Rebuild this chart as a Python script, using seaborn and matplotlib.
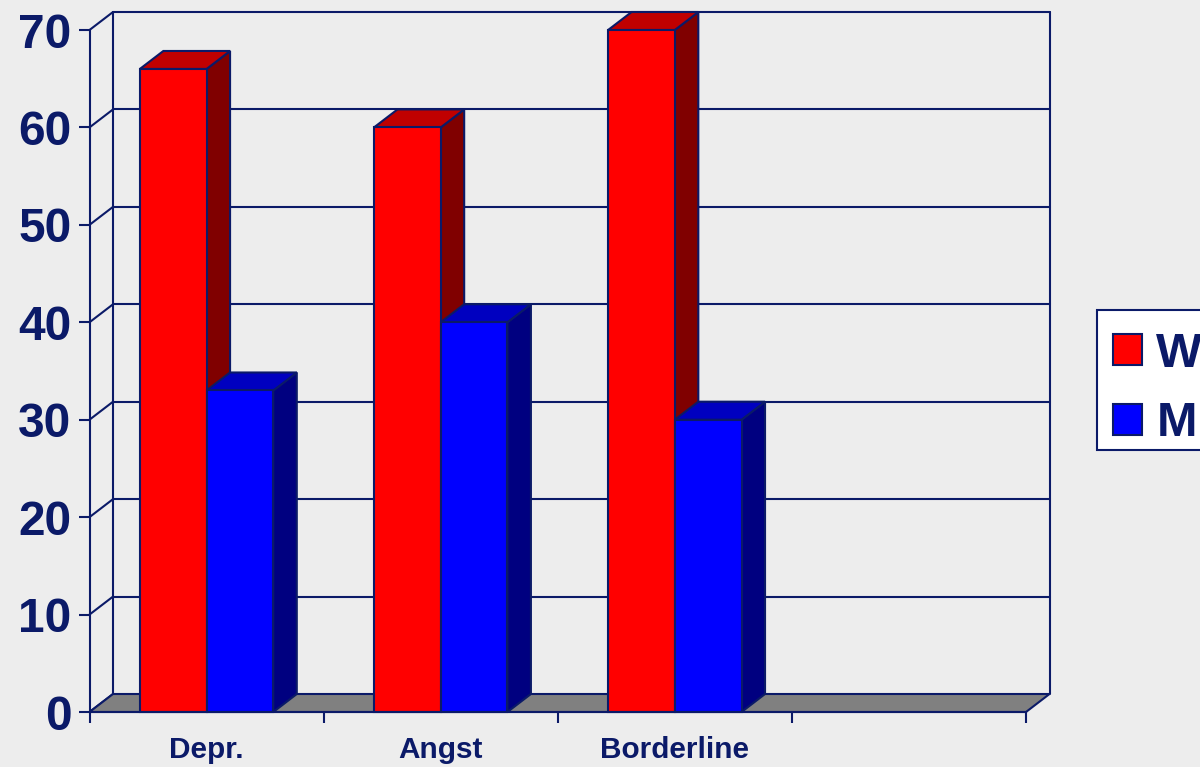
import pandas as pd
import matplotlib.pyplot as plt
from matplotlib.patches import Polygon, Rectangle
import seaborn as sns

# data
kategorien = ['Depr.', 'Angst', 'Borderline', ' ']
werte_w = [66, 60, 70]
werte_m = [33, 40, 30]
y_ticks = [0, 10, 20, 30, 40, 50, 60, 70]
serien = ['W', 'M']

# config
BG = '#ededed'
NAVY = '#0b1a68'
LW = 1.5
farben = {'W': '#ff0000', 'M': '#0000ff'}
seite = {'W': '#800000', 'M': '#000080'}
oben = {'W': '#c00000', 'M': '#0000c0'}

sns.set_theme(style='white', rc={'figure.facecolor': BG, 'axes.facecolor': 'none'})
plt.rcParams['font.family'] = ['Liberation Sans', 'DejaVu Sans']

df = pd.DataFrame({
    'Diagnose': kategorien[:3] * 2,
    'Prozent': werte_w + werte_m,
    'Gruppe': ['W'] * 3 + ['M'] * 3,
})

fig = plt.figure(figsize=(12, 7.67), dpi=100)
ax = fig.add_axes([89.5 / 1200, 1 - 712 / 767, (1026 - 89.5) / 1200, 682 / 767])

sns.barplot(data=df, x='Diagnose', y='Prozent', hue='Gruppe', order=kategorien,
            hue_order=serien, palette=farben, saturation=1, width=0.57, gap=0,
            edgecolor=NAVY, linewidth=LW, errorbar=None, ax=ax)

ax.set_xlim(-0.5, 3.5)
ax.set_ylim(0, 70)

# Tiefe der 3D-Optik in Daten-Einheiten
dx = 23.5 / (936.5 / 4)
dy = 18 / (682 / 70)

# Rueckwand + linke Wand
x0, x1 = ax.get_xlim()
for y in y_ticks:
    if y > 0:
        ax.plot([x0 + dx, x1 + dx], [y + dy, y + dy], color=NAVY, lw=LW, clip_on=False, zorder=1)
    ax.plot([x0, x0 + dx], [y, y + dy], color=NAVY, lw=LW, clip_on=False, zorder=1)
ax.plot([x0 + dx, x0 + dx], [dy, 70 + dy], color=NAVY, lw=LW, clip_on=False, zorder=1)
ax.plot([x1 + dx, x1 + dx], [dy, 70 + dy], color=NAVY, lw=LW, clip_on=False, zorder=1)

# Boden
boden = Polygon([(x0, 0), (x1, 0), (x1 + dx, dy), (x0 + dx, dy)], closed=True,
                facecolor='#808080', edgecolor=NAVY, lw=LW, clip_on=False, zorder=2)
ax.add_patch(boden)

# 3D-Flaechen an den Balken
z = 3
for i in range(3):
    for gruppe, container in zip(serien, ax.containers):
        bar = container.patches[i]
        links, breite, h = bar.get_x(), bar.get_width(), bar.get_height()
        rechts = links + breite
        s = Polygon([(rechts, 0), (rechts + dx, dy), (rechts + dx, h + dy), (rechts, h)], closed=True,
                    facecolor=seite[gruppe], edgecolor=NAVY, lw=LW, clip_on=False, zorder=z)
        t = Polygon([(links, h), (rechts, h), (rechts + dx, h + dy), (links + dx, h + dy)], closed=True,
                    facecolor=oben[gruppe], edgecolor=NAVY, lw=LW, clip_on=False, zorder=z)
        ax.add_patch(s)
        ax.add_patch(t)
        bar.set_zorder(z + 1)
        bar.set_clip_on(False)
        z += 2

# Achsen
sns.despine(ax=ax, top=True, right=True)
for sp in ['left', 'bottom']:
    ax.spines[sp].set_color(NAVY)
    ax.spines[sp].set_linewidth(LW)
    ax.spines[sp].set_zorder(50)

ax.set_xlabel('')
ax.set_ylabel('')
ax.set_yticks(y_ticks)
ax.tick_params(axis='y', left=True, length=8, width=LW, color=NAVY, pad=5, labelcolor=NAVY, labelsize=34.5)
for lab in ax.get_yticklabels():
    lab.set_fontweight('bold')

ax.set_xticks([-0.5, 0.5, 1.5, 2.5, 3.5])
ax.set_xticklabels([])
ax.set_xticks([0, 1, 2], kategorien[:3], minor=True)
ax.tick_params(axis='x', which='major', bottom=True, length=8, width=LW, color=NAVY)
ax.tick_params(axis='x', which='minor', bottom=False, length=0, pad=17, labelcolor=NAVY, labelsize=21.4)
for lab in ax.get_xticklabels(minor=True):
    lab.set_fontweight('bold')

# Legende laeuft rechts aus dem Bild, Kasten extra
kasten = Rectangle((1097 / 1200, 1 - 450 / 767), 140 / 1200, 140 / 767, transform=fig.transFigure,
                   facecolor='white', edgecolor=NAVY, lw=LW, clip_on=False, zorder=40)
ax.add_patch(kasten)
sns.move_legend(ax, 'upper left', bbox_to_anchor=(1113 / 1200, 1 - 332 / 767),
                bbox_transform=fig.transFigure, title=None, frameon=False, borderaxespad=0,
                borderpad=0, handlelength=0.6, handleheight=0.6, handletextpad=0.29,
                labelspacing=0.5, labelcolor=NAVY, prop={'weight': 'bold', 'size': 35})
ax.get_legend().set_zorder(60)

plt.savefig('out.png', dpi=100, facecolor=BG)
plt.close()
